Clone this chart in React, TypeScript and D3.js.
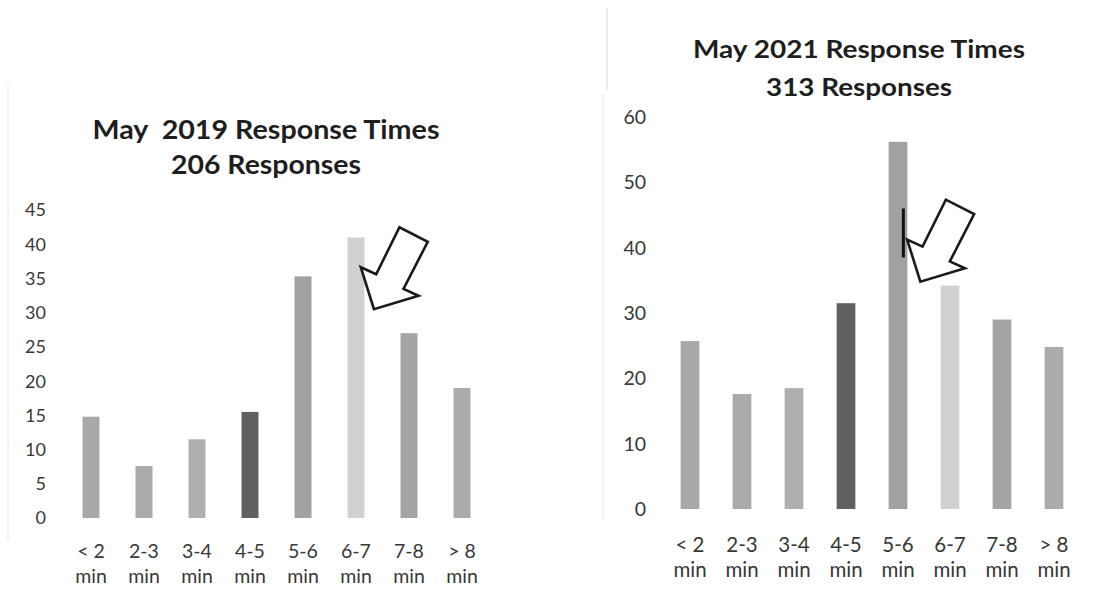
import React from "react";
import * as d3 from "d3";

// ---- data ----
const CATEGORIES = ["< 2", "2-3", "3-4", "4-5", "5-6", "6-7", "7-8", "> 8"];
const UNIT_LABEL = "min";
const VALUES_2019 = [14.8, 7.6, 11.5, 15.5, 35.3, 41.0, 27.0, 19.0];
const VALUES_2021 = [25.7, 17.6, 18.5, 31.5, 56.2, 34.2, 29.0, 24.8];
const TICKS_2019 = [0, 5, 10, 15, 20, 25, 30, 35, 40, 45];
const TICKS_2021 = [0, 10, 20, 30, 40, 50, 60];
const TITLE_2019 = ["May  2019 Response Times", "206 Responses"];
const TITLE_2021 = ["May 2021 Response Times", "313 Responses"];
// annotation targets: category the arrow points at, and value level of its tip
const ARROW_2019 = { cat: "6-7", level: 30.5 };
const ARROW_2021 = { cat: "5-6", level: 34.8 };

// ---- styles ----
const BAR_COLORS = ["#a8a8a8", "#aaaaaa", "#afafaf", "#606060", "#a1a1a1", "#d1d1d1", "#a4a4a4", "#ababab"];
const FONT = "Lato, 'Open Sans', sans-serif";
const TEXT = "#383838";
const ARROW_SHAPE: [number, number][] = [
  [0, 0], [-13.2, -42], [2.2, -35], [25.5, -82], [53.8, -67.5], [29.5, -20.3], [44.6, -13.4],
];

type Layout = {
  yRange: [number, number];
  xRange: [number, number];
  pad: number;
  tickX: number;
  tickFont: number;
  xFont: number;
  xLab1: number;
  xLab2: number;
  titleX: number;
  titleY: [number, number];
  titleFont: number;
  titleLen: [number, number];
  arrowDx: number;
};

function Chart({ values, ticks, title, arrow, layout, mark }: {
  values: number[]; ticks: number[]; title: string[];
  arrow: { cat: string; level: number }; layout: Layout; mark?: boolean;
}) {
  const x = d3.scaleBand<string>().domain(CATEGORIES).range(layout.xRange)
    .paddingInner(layout.pad).paddingOuter(layout.pad / 2);
  const y = d3.scaleLinear().domain([0, ticks[ticks.length - 1]]).range(layout.yRange);
  const bw = x.bandwidth();
  const tipX = (x(arrow.cat) as number) + bw + layout.arrowDx;
  const tipY = y(arrow.level);
  const arrowPath = d3.line()(ARROW_SHAPE.map(([dx, dy]) => [tipX + dx, tipY + dy])) + "Z";
  return (
    <g fontFamily={FONT}>
      {title.map((t, i) => (
        <text key={i} x={layout.titleX} y={layout.titleY[i]} textAnchor="middle" fontWeight={700}
          fontSize={layout.titleFont} fill="#1e1e1e" xmlSpace="preserve"
          textLength={layout.titleLen[i]} lengthAdjust="spacingAndGlyphs">{t}</text>
      ))}
      {ticks.map((t) => (
        <text key={t} x={layout.tickX} y={y(t)} dy="0.36em" textAnchor="end" fontSize={layout.tickFont} fill={TEXT}>{t}</text>
      ))}
      {CATEGORIES.map((c, i) => (
        <rect key={c} x={x(c)} y={y(values[i])} width={bw} height={y(0) - y(values[i])} fill={BAR_COLORS[i]} />
      ))}
      {CATEGORIES.map((c) => (
        <g key={c} fontSize={layout.xFont} fill={TEXT} textAnchor="middle">
          <text x={(x(c) as number) + bw / 2} y={layout.xLab1}>{c}</text>
          <text x={(x(c) as number) + bw / 2} y={layout.xLab2}>{UNIT_LABEL}</text>
        </g>
      ))}
      {mark && (
        <line x1={(x(arrow.cat) as number) + bw - 4} x2={(x(arrow.cat) as number) + bw - 4}
          y1={y(46)} y2={y(38.5)} stroke="#111" strokeWidth={3} />
      )}
      <path d={arrowPath} fill="#fff" stroke="#1a1a1a" strokeWidth={2.6} strokeLinejoin="miter" />
    </g>
  );
}

const LEFT: Layout = {
  yRange: [518, 210], xRange: [64.5, 488.5], pad: 0.68, tickX: 46, tickFont: 18,
  xFont: 19.5, xLab1: 558, xLab2: 583, titleX: 266, titleY: [139, 174], titleFont: 26,
  titleLen: [347, 190], arrowDx: 9.5,
};
const RIGHT: Layout = {
  yRange: [509, 117], xRange: [664, 1080], pad: 0.64, tickX: 646, tickFont: 19.5,
  xFont: 20.5, xLab1: 552, xLab2: 577, titleX: 859, titleY: [58, 96], titleFont: 25,
  titleLen: [332, 186], arrowDx: 13,
};

export default function App() {
  return (
    <svg width={1096} height={590} style={{ position: "absolute", left: 0, top: 0, background: "#fff" }}>
      <rect width={1096} height={590} fill="#fff" />
      <line x1={8} x2={8} y1={85} y2={540} stroke="#f1f1f1" strokeWidth={2} />
      <line x1={607} x2={607} y1={8} y2={90} stroke="#ececec" strokeWidth={2} />
      <line x1={603} x2={603} y1={95} y2={520} stroke="#f4f4f4" strokeWidth={2} />
      <Chart values={VALUES_2019} ticks={TICKS_2019} title={TITLE_2019} arrow={ARROW_2019} layout={LEFT} />
      <Chart values={VALUES_2021} ticks={TICKS_2021} title={TITLE_2021} arrow={ARROW_2021} layout={RIGHT} mark />
    </svg>
  );
}
